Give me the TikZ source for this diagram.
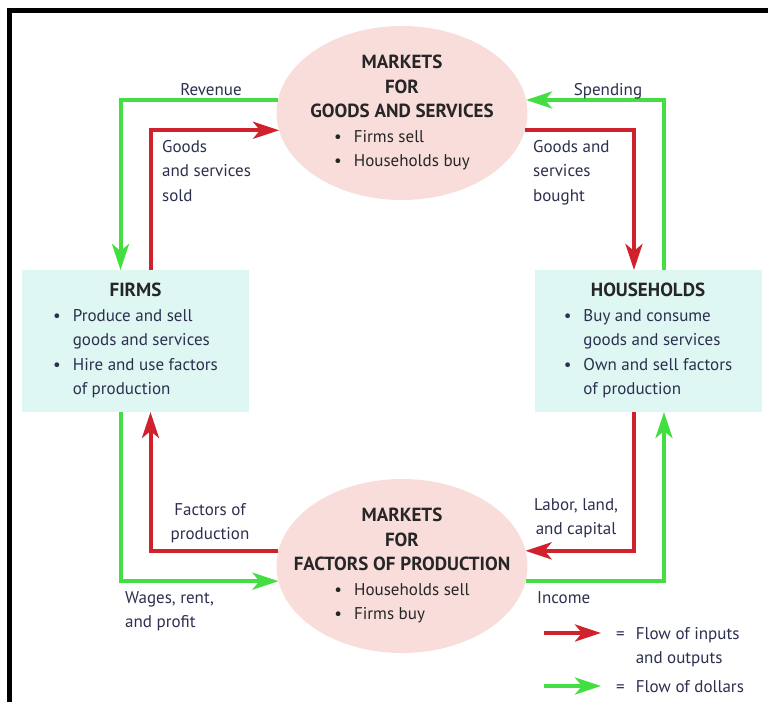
\documentclass[tikz,border=0pt]{standalone}
\usepackage{fontspec}
\setmainfont{PT Sans}
\usepackage{xcolor}
\usepackage{tikz}
\usetikzlibrary{shapes.geometric, arrows.meta, positioning, calc}
\definecolor{marketpink}{RGB}{248, 221, 219}
\definecolor{sectorcyan}{RGB}{222, 247, 243}
\definecolor{flowred}{RGB}{208, 33, 45}
\definecolor{flowgreen}{RGB}{66, 222, 66}
\definecolor{labelink}{RGB}{44, 47, 78}
\newcommand{\bodyfont}{\fontsize{17}{24.5}\selectfont}
\newcommand{\headfont}{\fontsize{19}{24.5}\selectfont\bfseries}

\begin{document}
\begin{tikzpicture}[
    x=1pt, y=-1pt,
    market/.style={ellipse, fill=marketpink, minimum width=251pt, minimum height=174pt, inner sep=0pt, outer sep=0pt, font=\bodyfont, text=black!85},
    sector/.style={rectangle, fill=sectorcyan, minimum width=227pt, minimum height=142pt, inner sep=0pt, outer sep=0pt, font=\bodyfont, text=labelink},
    lbl/.style={inner sep=0pt, font=\bodyfont, text=labelink},
    goods/.style={draw=flowred, line width=4pt, -{Stealth[length=26pt, width=17pt, inset=7pt]}},
    money/.style={draw=flowgreen, line width=4pt, -{Stealth[length=26pt, width=17pt, inset=7pt]}}
]
    \useasboundingbox (0,0) rectangle (768,702);

    % Frame
    \draw[line width=5pt] (768,10.5) -| (9.5,702);

    % Markets
    \node[market] (goodsmkt) at (402,113) {\makebox[0pt]{\begin{tabular}{@{}c@{}}
        \headfont MARKETS\\ \headfont FOR\\ \headfont GOODS AND SERVICES\\
        \begin{tabular}[t]{@{}l@{\hspace{12pt}}l@{}}\textbullet & Firms sell\\ \textbullet & Households buy\end{tabular}
    \end{tabular}}};
    \node[market] (factorsmkt) at (402,566) {\makebox[0pt]{\begin{tabular}{@{}c@{}}
        \headfont MARKETS\\ \headfont FOR\\ \headfont FACTORS OF PRODUCTION\\
        \begin{tabular}[t]{@{}l@{\hspace{12pt}}l@{}}\textbullet & Households sell\\ \textbullet & Firms buy\end{tabular}
    \end{tabular}}};

    % Firms and households
    \node[sector] (firms) at (135.5,341) {\begin{tabular}{@{}c@{}}
        \textcolor{black!85}{\headfont FIRMS}\\
        \begin{tabular}[t]{@{}l@{\hspace{12pt}}l@{}}\textbullet & Produce and sell\\ & goods and services\\ \textbullet & Hire and use factors\\ & of production\end{tabular}
    \end{tabular}};
    \node[sector] (households) at (648,341) {\begin{tabular}{@{}c@{}}
        \textcolor{black!85}{\headfont HOUSEHOLDS}\\
        \begin{tabular}[t]{@{}l@{\hspace{12pt}}l@{}}\textbullet & Buy and consume\\ & goods and services\\ \textbullet & Own and sell factors\\ & of production\end{tabular}
    \end{tabular}};

    % Flows around the goods market
    \draw[money] (goodsmkt.174) -| ([xshift=-15pt]firms.north);
    \draw[goods] ([xshift=15pt]firms.north) |- (goodsmkt.188);
    \draw[goods] (goodsmkt.352) -| ([xshift=-14pt]households.north);
    \draw[money] ([xshift=16pt]households.north) |- (goodsmkt.6);

    % Flows around the factor market
    \draw[goods] (factorsmkt.173) -| ([xshift=15pt]firms.south);
    \draw[money] ([xshift=-15pt]firms.south) |- (factorsmkt.187);
    \draw[goods] ([xshift=-14pt]households.south) |- (factorsmkt.7);
    \draw[money] (factorsmkt.353) -| ([xshift=16pt]households.south);

    % Flow labels
    \node[lbl, anchor=base] (revenue) at (211,95) {Revenue};
    \node[lbl, anchor=base] (spending) at (608,95) {Spending};
    \node[lbl, anchor=base west] (sold) at (162,152) {\begin{tabular}[t]{@{}l@{}}Goods\\ and services\\ sold\end{tabular}};
    \node[lbl, anchor=base west] (bought) at (533,152) {\begin{tabular}[t]{@{}l@{}}Goods and\\ services\\ bought\end{tabular}};
    \node[lbl, anchor=base] (factorsin) at (210,515) {\begin{tabular}[t]{@{}c@{}}Factors of\\ production\end{tabular}};
    \node[lbl, anchor=base] (labor) at (576,510) {\begin{tabular}[t]{@{}c@{}}Labor, land,\\ and capital\end{tabular}};
    \node[lbl, anchor=base west] (wages) at (125,603) {\begin{tabular}[t]{@{}l@{}}Wages, rent,\\ and profit\end{tabular}};
    \node[lbl, anchor=base west] (income) at (537,603) {Income};

    % Key
    \node[lbl, anchor=base west] (keyinputs) at (616,639) {\begin{tabular}[t]{@{}l@{\hspace{11pt}}l@{}}= & Flow of inputs\\ & and outputs\end{tabular}};
    \node[lbl, anchor=base west] (keydollars) at (616,692) {\begin{tabular}[t]{@{}l@{\hspace{11pt}}l@{}}= & Flow of dollars\end{tabular}};
    \coordinate (inputstail) at (544,633);
    \coordinate (dollarstail) at (544,686);
    \draw[goods, shorten >=15pt] (inputstail) -- (inputstail -| keyinputs.west);
    \draw[money, shorten >=15pt] (dollarstail) -- (dollarstail -| keydollars.west);

\end{tikzpicture}
\end{document}
